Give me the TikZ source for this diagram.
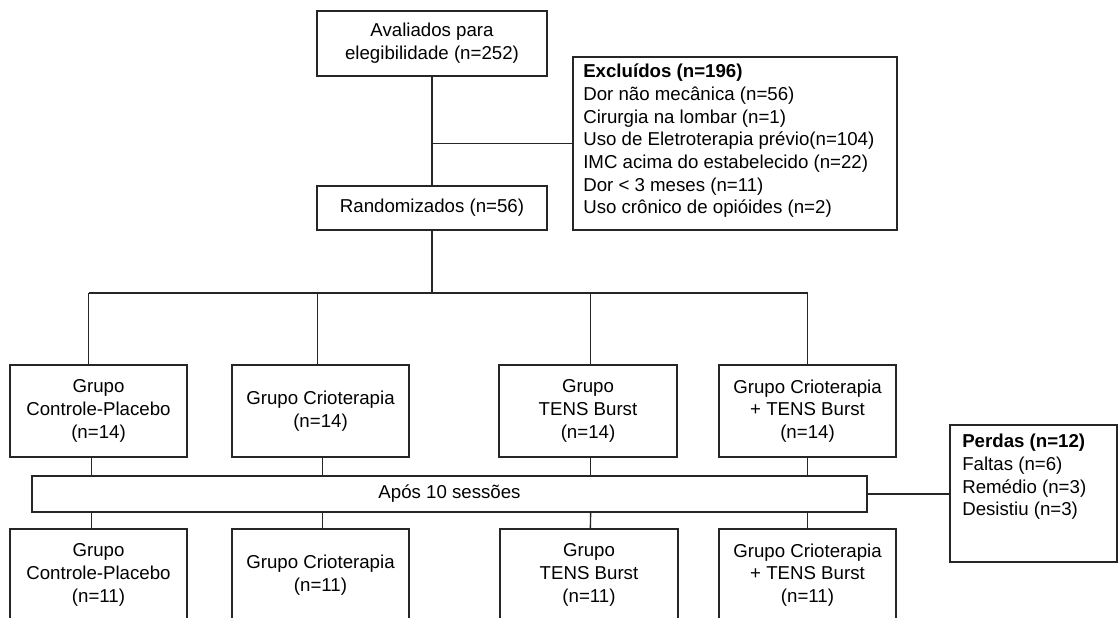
\documentclass[tikz,border=0pt]{standalone}
\usepackage{fontspec}
\setmainfont{Liberation Sans}
\begin{document}
\begin{tikzpicture}[x=0.75pt,y=-0.75pt,
  ln/.style={draw=black!85,line width=1pt},
  bx/.style 2 args={ln,rectangle,inner sep=0pt,align=center,
    minimum width=#1*0.75pt,minimum height=#2*0.75pt,
    font=\fontsize{14pt}{17pt}\selectfont},
  txt/.style={inner sep=0pt,align=left,anchor=north west,
    font=\fontsize{14pt}{17pt}\selectfont}]
\useasboundingbox (0,0) rectangle (1119,617);
\clip (0,0) rectangle (1119,617);
\fill[white] (0,0) rectangle (1119,617);

% top part
\node[bx={230}{65}] (top) at (432,43.5) {Avaliados para\\elegibilidade (n=252)};
\node[bx={324}{173}] (excl) at (735,143.5) {};
\node[txt] (excltxt) at (583,64) {\textbf{Excluídos (n=196)}\\Dor não mecânica (n=56)\\Cirurgia na lombar (n=1)\\Uso de Eletroterapia prévio(n=104)\\IMC acima do estabelecido (n=22)\\Dor < 3 meses (n=11)\\Uso crônico de opióides (n=2)};
\node[bx={230}{44}] (rand) at (432,208) {Randomizados (n=56)};

% groups
\node[bx={177}{92}] (b1) at (98.5,411) {Grupo\\Controle-Placebo\\(n=14)};
\node[bx={177}{92}] (b2) at (320.5,411) {Grupo Crioterapia\\(n=14)};
\node[bx={178}{92}] (b3) at (588,411) {Grupo\\TENS Burst\\(n=14)};
\node[bx={177}{92}] (b4) at (807.5,411) {Grupo Crioterapia\\+ TENS Burst\\(n=14)};

\node[bx={835}{36}] (apos) at (449.5,494) {Após 10 sessões};

\node[bx={177}{92}] (c1) at (98.5,575) {Grupo\\Controle-Placebo\\(n=11)};
\node[bx={177}{92}] (c2) at (320.5,575) {Grupo Crioterapia\\(n=11)};
\node[bx={178}{92}] (c3) at (589,575) {Grupo\\TENS Burst\\(n=11)};
\node[bx={177}{92}] (c4) at (807.5,575) {Grupo Crioterapia\\+ TENS Burst\\(n=11)};

\node[bx={167}{137}] (perd) at (1033.5,493.5) {};
\node[txt] (perdtxt) at (962,434) {\textbf{Perdas (n=12)}\\Faltas (n=6)\\Remédio (n=3)\\Desistiu (n=3)};

% connectors
\coordinate (exj) at (top.south |- excl.west);
\draw[ln] (top.south) -- (rand.north);
\draw[ln] (exj) -- (excl.west);
\coordinate (split) at (432,293);
\draw[ln] (rand.south) -- (split);
\draw[ln] ([xshift=-7.5]b1.north |- split) -- (b4.north |- split);
\draw[ln] ([xshift=-7.5]b1.north |- split) -- ([xshift=-7.5]b1.north);
\draw[ln] ([xshift=-2.5]b2.north |- split) -- ([xshift=-2.5]b2.north);
\draw[ln] ([xshift=2]b3.north |- split) -- ([xshift=2]b3.north);
\draw[ln] (b4.north |- split) -- (b4.north);

\draw[ln] ([xshift=-5.5]b1.south) -- ([xshift=-5.5]b1.south |- apos.north);
\draw[ln] ([xshift=1.5]b2.south) -- ([xshift=1.5]b2.south |- apos.north);
\draw[ln] ([xshift=2]b3.south) -- ([xshift=2]b3.south |- apos.north);
\draw[ln] (b4.south) -- (b4.south |- apos.north);

\draw[ln] ([xshift=-5.5]b1.south |- apos.south) -- ([xshift=-5.5]c1.north);
\draw[ln] ([xshift=1.5]b2.south |- apos.south) -- ([xshift=1.5]c2.north);
\draw[ln] ([xshift=2]b3.south |- apos.south) -- ([xshift=1]c3.north);
\draw[ln] (b4.south |- apos.south) -- (c4.north);

\draw[ln] (apos.east) -- (perd.west |- apos.east);
\end{tikzpicture}
\end{document}
